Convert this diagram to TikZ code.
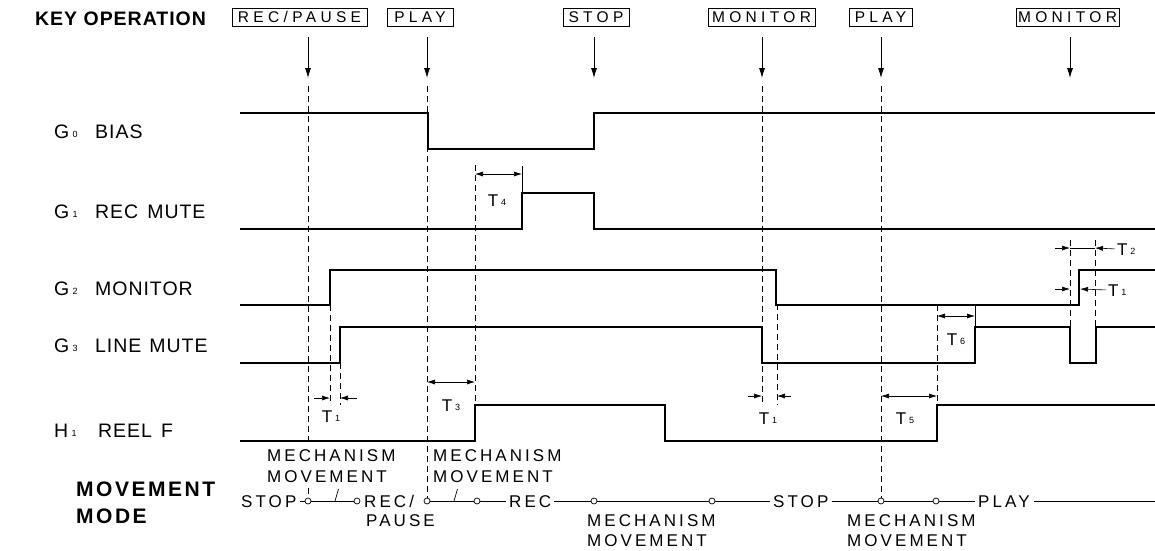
\documentclass[tikz,border=0pt]{standalone}
\usepackage{fontspec}
\setmainfont{Liberation Sans}
\newfontfamily\labf{Liberation Sans}[LetterSpace=5]
\newfontfamily\keyf{Liberation Sans}[LetterSpace=28]
\newfontfamily\movf{Liberation Sans}[LetterSpace=18]
\newfontfamily\boldf{Liberation Sans}[LetterSpace=5]
\newfontfamily\boldw{Liberation Sans}[LetterSpace=12]
\usetikzlibrary{arrows.meta}
\newcommand\sbx[1]{\,\raisebox{0.5pt}{\fontsize{9}{9}\selectfont #1}}
\begin{document}
\begin{tikzpicture}[x=1pt,y=-1pt,
  sig/.style={line width=2.6pt, line join=miter},
  dsh/.style={line width=0.6pt, dash pattern=on 6pt off 4pt},
  karrow/.style={line width=0.8pt, -{Latex[length=10pt,width=6pt]}},
  dim/.style={line width=0.6pt},
  dtip/.style={-{Latex[length=8pt,width=5pt]}},
  dtips/.style={{Latex[length=8pt,width=5pt]}-{Latex[length=8pt,width=5pt]}},
  keybox/.style={draw, line width=0.9pt, minimum height=18pt, inner sep=0pt, text height=11.1pt, text depth=0pt, font=\keyf\fontsize{15.5}{15.5}\selectfont},
  lab/.style={anchor=west, inner sep=0pt, text height=14pt, text depth=0pt, font=\labf\fontsize{19.5}{22}\selectfont},
  tl/.style={inner sep=0pt, text height=12pt, text depth=0pt, font=\labf\fontsize{17}{18}\selectfont},
  mv/.style={anchor=west, inner sep=0pt, text height=12.2pt, text depth=0pt, font=\movf\fontsize{17}{20}\selectfont},
  bd/.style={anchor=west, inner sep=0pt, text height=14pt, text depth=0pt, font=\boldf\bfseries\fontsize{19.5}{22}\selectfont},
  bdw/.style={anchor=west, inner sep=0pt, text height=15pt, text depth=0pt, font=\boldw\bfseries\fontsize{21}{22}\selectfont},
  ring/.style={circle, draw, fill=white, line width=0.7pt, minimum size=6pt, inner sep=0pt},
  mline/.style={line width=0.7pt},
]
\fill[white] (0,0) rectangle (1155,550);
\useasboundingbox (0,0) rectangle (1155,550);

% ---- key operation row
\node[bd] (keyop) at (35,18) {KEY OPERATION};
\node[keybox, minimum width=135pt] (kRP) at (299.5,17) {REC/PAUSE};
\node[keybox, minimum width=66pt] (kPL) at (420,17) {PLAY};
\node[keybox, minimum width=66pt] (kST) at (596,17) {STOP};
\node[keybox, minimum width=107pt] (kMO) at (761.5,17) {MONITOR};
\node[keybox, minimum width=63pt] (kPL2) at (880.5,17) {PLAY};
\node[keybox, minimum width=103pt] (kMO2) at (1067.5,17) {MONITOR};
\foreach \x/\n in {308/a,427/b,594/c,762/d,881/e,1070/f}{
  \coordinate (t\n) at (\x,37);
  \coordinate (h\n) at (\x,78);
  \draw[karrow] (t\n) -- (h\n);
}

% ---- signal labels
\node[lab] (g0) at (54,131) {\makebox[41pt][l]{G\sbx{0}}BIAS};
\node[lab] (g1) at (54,211) {\makebox[41pt][l]{G\sbx{1}}REC\hspace{9pt}MUTE};
\node[lab] (g2) at (54,288) {\makebox[41pt][l]{G\sbx{2}}MONITOR};
\node[lab] (g3) at (54,345) {\makebox[41pt][l]{G\sbx{3}}LINE\hspace{8pt}MUTE};
\node[lab] (h1) at (54,430) {\makebox[44pt][l]{H\sbx{1}}REEL\hspace{9pt}F};

% ---- signals
\draw[sig] (240,113) -- (428,113) -- (428,149) -- (594,149) -- (594,113) -- (1155,113);
\draw[sig] (240,229) -- (522,229) -- (522,193) -- (594,193) -- (594,229) -- (1155,229);
\draw[sig] (240,305) -- (330,305) -- (330,270) -- (776,270) -- (776,305) -- (1079,305) -- (1079,270) -- (1155,270);
\draw[sig] (240,363) -- (340,363) -- (340,327) -- (762,327) -- (762,363) -- (975,363) -- (975,327) -- (1070,327) -- (1070,363) -- (1096,363) -- (1096,327) -- (1155,327);
\draw[sig] (240,441) -- (475,441) -- (475,405) -- (665,405) -- (665,441) -- (937,441) -- (937,405) -- (1155,405);

% ---- movement mode row
\node[bdw] (mvA) at (76,489) {MOVEMENT};
\node[bdw] (mvB) at (76,516) {MODE};
\node[mv] (mSTOP) at (241,501) {STOP};
\node[ring] (c1) at (308,501) {};
\node[ring] (c2) at (357,501) {};
\node[mv] (mRP) at (364,501) {REC/};
\node[mv] (mPA) at (366,520) {PAUSE};
\node[ring] (c3) at (427,501) {};
\node[ring] (c4) at (477,501) {};
\node[mv] (mREC) at (509,501) {REC};
\node[ring] (c5) at (594,501) {};
\node[ring] (c6) at (712,501) {};
\node[mv] (mSTOP2) at (773,501) {STOP};
\node[ring] (c7) at (881,501) {};
\node[ring] (c8) at (936,501) {};
\node[mv] (mPLAY) at (978,501) {PLAY};
\coordinate (mEnd) at (1155,501);
\node[mv] (mm1a) at (267,455) {MECHANISM};
\node[mv] (mm1b) at (267,476) {MOVEMENT};
\node[mv] (mm2a) at (433,455) {MECHANISM};
\node[mv] (mm2b) at (433,476) {MOVEMENT};
\node[mv] (mm3a) at (587,520) {MECHANISM};
\node[mv] (mm3b) at (587,540.5) {MOVEMENT};
\node[mv] (mm4a) at (847,520) {MECHANISM};
\node[mv] (mm4b) at (847,540.5) {MOVEMENT};

\draw[mline, shorten <=3pt] (mSTOP.east) -- (c1);
\draw[mline] (c1) -- (c2);
\draw[mline] (c3) -- (c4);
\draw[mline, shorten >=3pt] (c4) -- (mREC.west);
\draw[mline, shorten <=3pt] (mREC.east) -- (c5);
\draw[mline] (c5) -- (c6);
\draw[mline, shorten >=3pt] (c6) -- (mSTOP2.west);
\draw[mline, shorten <=3pt] (mSTOP2.east) -- (c7);
\draw[mline] (c7) -- (c8);
\draw[mline, shorten >=3pt] (c8) -- (mPLAY.west);
\draw[mline, shorten <=4pt] (mPLAY.east) -- (mEnd);
\draw[mline] (335,501) -- (338.5,489);
\draw[mline] (454,501) -- (457.5,489);

% ---- dashed time markers
\draw[dsh] (308,86) -- (308,443);
\draw[dsh] (308,488) -- (c1.north);
\draw[dsh] (427,86) -- (c3.north);
\draw[dsh] (762,86) -- (762,405);
\draw[dsh] (881,86) -- (c7.north);
\draw[dsh] (330,305) -- (330,405);
\draw[dsh] (340,363) -- (340,405);
\draw[dsh] (475,165) -- (475,405);
\draw[dsh] (777,304) -- (777,405);
\draw[dsh] (937,305) -- (937,405);
\draw[dsh] (1070,240) -- (1070,327);
\draw[dsh] (1095,240) -- (1095,327);
\draw[dim] (522,166) -- (522,193);
\draw[dim] (975,305) -- (975,327);

% ---- timing dimensions
\draw[dim, dtips] (475,174) -- (522,174);
\draw[dim, dtips] (427,382) -- (475,382);
\draw[dim, dtip] (314,398) -- (330,398);
\draw[dim, dtip] (357,398) -- (340,398);
\draw[dim, dtip] (748,396) -- (762,396);
\draw[dim, dtip] (791,396) -- (777,396);
\draw[dim, dtips] (881,396) -- (937,396);
\draw[dim, dtips] (937,316) -- (975,316);

\node[tl] (lT4) at (497,200) {T\sbx{4}};
\node[tl] (lT3) at (451,405) {T\sbx{3}};
\node[tl] (lT1a) at (331,416) {T\sbx{1}};
\node[tl] (lT1b) at (768,418) {T\sbx{1}};
\node[tl] (lT5) at (905,418) {T\sbx{5}};
\node[tl] (lT6) at (956,339) {T\sbx{6}};
\node[tl, anchor=west] (lT2) at (1117,249) {T\sbx{2}};
\node[tl, anchor=west] (lT1c) at (1108,290) {T\sbx{1}};

\draw[dim, dtip] (1055,248) -- (1070,248);
\draw[dim] (1070,248) -- (1095,248);
\draw[dim, dtip, shorten <=2pt] (lT2.west) -- (1095,248);
\draw[dim, dtip] (1055,289) -- (1070,289);
\draw[dim, dtip, shorten <=2pt] (lT1c.west) -- (1080,289);
\end{tikzpicture}
\end{document}
